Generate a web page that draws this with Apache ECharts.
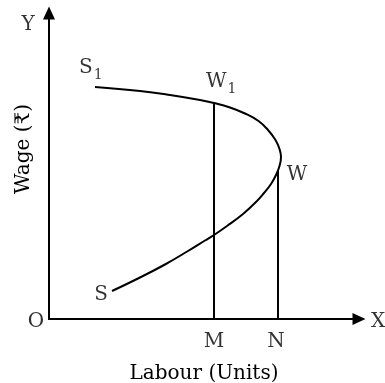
<!DOCTYPE html>
<html>
<head>
<meta charset="utf-8">
<script src="https://cdn.jsdelivr.net/npm/echarts@6/dist/echarts.min.js"></script>
<style>
  html, body { margin: 0; padding: 0; background: #fff; }
  #chart { width: 385px; height: 383px; }
</style>
</head>
<body>
<div id="chart"></div>
<script>
// backward bending supply curve, from S (bottom) to S1 (top)
var curveX = [63, 89, 116, 139, 156, 165, 178, 194, 207, 215, 222, 227, 230.5, 232, 230.5, 226.5, 219, 209.5, 196, 181, 165, 151, 121, 91, 46];
var curveY = [28, 40.5, 54.5, 68, 78.5, 84, 93, 105, 117, 126, 135, 144, 153, 162, 170, 179, 189, 198, 205.5, 211.5, 216, 219, 224, 228, 232];

// vertical guides: M under W1, N under W
var lineM = [[165, 0], [165, 216]];
var lineN = [[229, 0], [229, 149]];

// point labels
var labelNames = ["Y", "O", "X", "M", "N", "S", "{a|S}{b|1}", "{a|W}{b|1}", "W"];
var labelPos = [[-21, 294], [-13, -3], [329, -3], [165, -23], [227, -23], [52, 24], [30, 251], [157, 237], [248, 144]];
var labelAlign = ["center", "center", "center", "center", "center", "center", "left", "left", "center"];

var FONT = "DejaVu Serif";

var chart = echarts.init(document.getElementById("chart"));

var curveData = curveX.map(function (x, i) { return [x, curveY[i]]; });
var labelData = labelNames.map(function (n, i) {
  return {
    value: labelPos[i],
    label: { formatter: n, align: labelAlign[i] }
  };
});

chart.setOption({
  animation: false,
  grid: { left: 49, right: 26, top: 13, bottom: 64, outerBoundsMode: "none", containLabel: false },
  xAxis: {
    type: "value",
    min: 0,
    max: 310,
    name: "Labour (Units)",
    nameLocation: "middle",
    nameGap: 45,
    nameTextStyle: { fontFamily: FONT, fontSize: 20, color: "#000" },
    axisLine: {
      symbol: ["none", "triangle"],
      symbolSize: [12, 13],
      lineStyle: { color: "#000", width: 2 }
    },
    axisTick: { show: false },
    axisLabel: { show: false },
    splitLine: { show: false }
  },
  yAxis: {
    type: "value",
    min: 0,
    max: 306,
    name: "Wage (\u20b9)",
    nameLocation: "middle",
    nameGap: 15,
    nameRotate: 90,
    nameTextStyle: { fontFamily: FONT, fontSize: 20, color: "#000", padding: [0, 0, 0, 34] },
    axisLine: {
      symbol: ["none", "triangle"],
      symbolSize: [12, 13],
      lineStyle: { color: "#000", width: 2 }
    },
    axisTick: { show: false },
    axisLabel: { show: false },
    splitLine: { show: false }
  },
  series: [
    {
      name: "supply",
      type: "line",
      smooth: 0.45,
      showSymbol: false,
      data: curveData,
      lineStyle: { color: "#000", width: 2 }
    },
    {
      name: "M",
      type: "line",
      showSymbol: false,
      data: lineM,
      lineStyle: { color: "#000", width: 2 }
    },
    {
      name: "N",
      type: "line",
      showSymbol: false,
      data: lineN,
      lineStyle: { color: "#000", width: 2 }
    },
    {
      name: "labels",
      type: "scatter",
      symbolSize: 0,
      clip: false,
      data: labelData,
      label: {
        show: true,
        position: "inside",
        verticalAlign: "middle",
        fontFamily: FONT,
        fontSize: 20,
        color: "#000",
        rich: {
          a: { fontFamily: FONT, fontSize: 20, color: "#000", lineHeight: 20 },
          b: { fontFamily: FONT, fontSize: 14, color: "#000", padding: [14, 0, 0, 1] }
        }
      }
    }
  ]
});
</script>
</body>
</html>
